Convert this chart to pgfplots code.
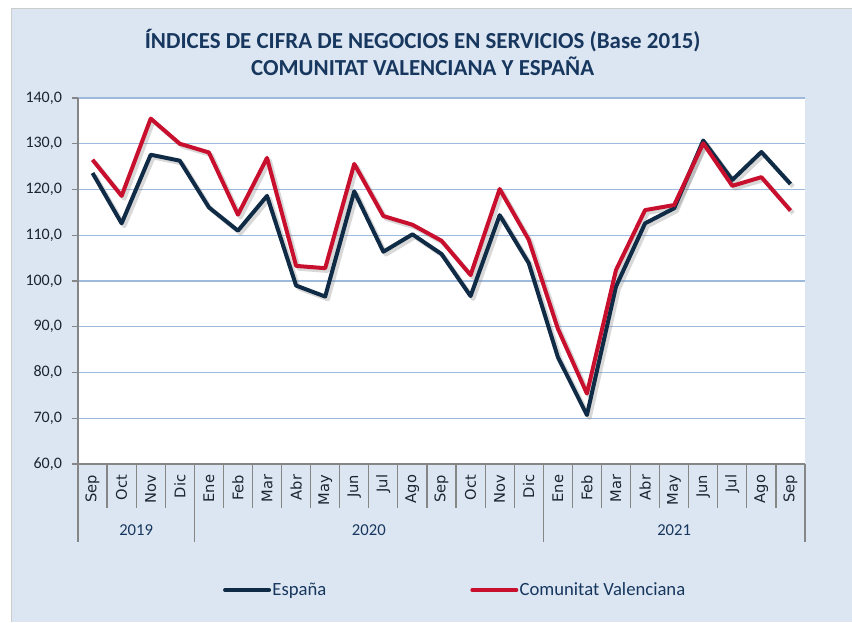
\documentclass[border=0pt]{standalone}
\usepackage{pgfplots}
\pgfplotsset{compat=1.18}
\usepackage{pgfplotstable}
\usepackage{fontspec}
\setmainfont{Carlito}
\newfontfamily\verd{DejaVu Sans}
\definecolor{bgblue}{HTML}{DCE6F2}
\definecolor{navy}{HTML}{0F2B46}
\definecolor{cvred}{HTML}{C8102E}
\definecolor{gridb}{HTML}{9DB9DB}
\definecolor{titlec}{HTML}{17375E}
\definecolor{axgray}{HTML}{868686}
\definecolor{txt}{HTML}{1A2433}

\pgfplotstableread{
x esp cv
0 123.6 126.5
1 112.6 118.6
2 127.6 135.5
3 126.3 130.0
4 116.1 128.1
5 111.0 114.5
6 118.6 126.9
7 99.0 103.3
8 96.6 102.8
9 119.6 125.6
10 106.4 114.2
11 110.2 112.3
12 105.9 108.8
13 96.7 101.3
14 114.4 120.1
15 103.9 109.0
16 83.4 89.6
17 70.7 75.4
18 98.8 102.4
19 112.6 115.5
20 115.9 116.6
21 130.7 130.1
22 122.1 120.8
23 128.2 122.7
24 121.2 115.4
}\datatable

\begin{document}
\begin{tikzpicture}[x=1pt,y=1pt]
\useasboundingbox (0,0) rectangle (639,466.5);
\fill[white] (0,0) rectangle (639,466.5);
\fill[bgblue] (8.25,0) rectangle (639,460.5);
\draw[gray!40, line width=0.5pt] (8.25,0) -- (8.25,460.5) -- (639,460.5);
\node[font=\bfseries\fontsize{17.2}{20}\selectfont, text=titlec, align=center] at (317,427) {ÍNDICES DE CIFRA DE NEGOCIOS EN SERVICIOS (Base 2015)\\COMUNITAT VALENCIANA Y ESPAÑA};
\begin{axis}[
  at={(58.5pt,118.5pt)}, anchor=south west, scale only axis,
  width=545.25pt, height=274.5pt,
  axis background/.style={fill=white},
  xmin=-0.5, xmax=24.5, ymin=60, ymax=140,
  ytick={60,70,...,140},
  ymajorgrids, grid style={gridb, line width=0.9pt},
  axis x line*=bottom, axis y line*=left,
  axis line style={axgray, line width=0.9pt},
  tick align=outside, major tick length=4.5pt,
  ytick style={axgray, line width=0.9pt},
  xtick style={draw=none},
  xtick={0,...,24},
  xticklabels={Sep,Oct,Nov,Dic,Ene,Feb,Mar,Abr,May,Jun,Jul,Ago,Sep,Oct,Nov,Dic,Ene,Feb,Mar,Abr,May,Jun,Jul,Ago,Sep},
  xticklabel style={rotate=90, anchor=east, font=\verd\fontsize{11}{12}\selectfont, text=txt, xshift=0pt},
  yticklabel style={font=\fontsize{12}{14}\selectfont, text=txt, xshift=-4pt},
  /pgf/number format/.cd, fixed, fixed zerofill, precision=1, use comma, assume math mode=true,
  /pgfplots/.cd,
  clip=false,
  legend columns=2,
  legend style={at={(0.5,0)}, anchor=center, xshift=10pt, yshift=-94.5pt, draw=none, fill=none,
    font=\fontsize{14}{16}\selectfont, text=titlec,
    /tikz/every even column/.append style={column sep=107pt},
    nodes={inner sep=1pt}},
  legend image code/.code={\draw[#1, line width=3pt, line cap=round] (0pt,0pt) -- (33pt,0pt);},
]
\addplot[gray, opacity=0.3, line width=3.2pt, line join=round, transform canvas={xshift=2pt,yshift=-2pt}, forget plot] table[x=x,y=esp] {\datatable};
\addplot[gray, opacity=0.3, line width=3.2pt, line join=round, transform canvas={xshift=2pt,yshift=-2pt}, forget plot] table[x=x,y=cv] {\datatable};
\addplot[navy, line width=3pt, line join=round, no markers] table[x=x,y=esp] {\datatable};
\addlegendentry{España}
\addplot[cvred, line width=3pt, line join=round, no markers] table[x=x,y=cv] {\datatable};
\addlegendentry{Comunitat Valenciana}
\pgfplotsinvokeforeach{-0.5,0.5,...,24.5}{\draw[axgray, line width=0.9pt] (axis cs:#1,60) -- ++(0pt,-33pt);}
\pgfplotsinvokeforeach{-0.5,3.5,15.5,24.5}{\draw[axgray, line width=0.9pt] (axis cs:#1,60) -- ++(0pt,-58.5pt);}
\node[font=\fontsize{12.5}{14}\selectfont, text=titlec] at ([yshift=-49.5pt]axis cs:1.5,60) {2019};
\node[font=\fontsize{12.5}{14}\selectfont, text=titlec] at ([yshift=-49.5pt]axis cs:9.5,60) {2020};
\node[font=\fontsize{12.5}{14}\selectfont, text=titlec] at ([yshift=-49.5pt]axis cs:20,60) {2021};
\end{axis}
\end{tikzpicture}
\end{document}
